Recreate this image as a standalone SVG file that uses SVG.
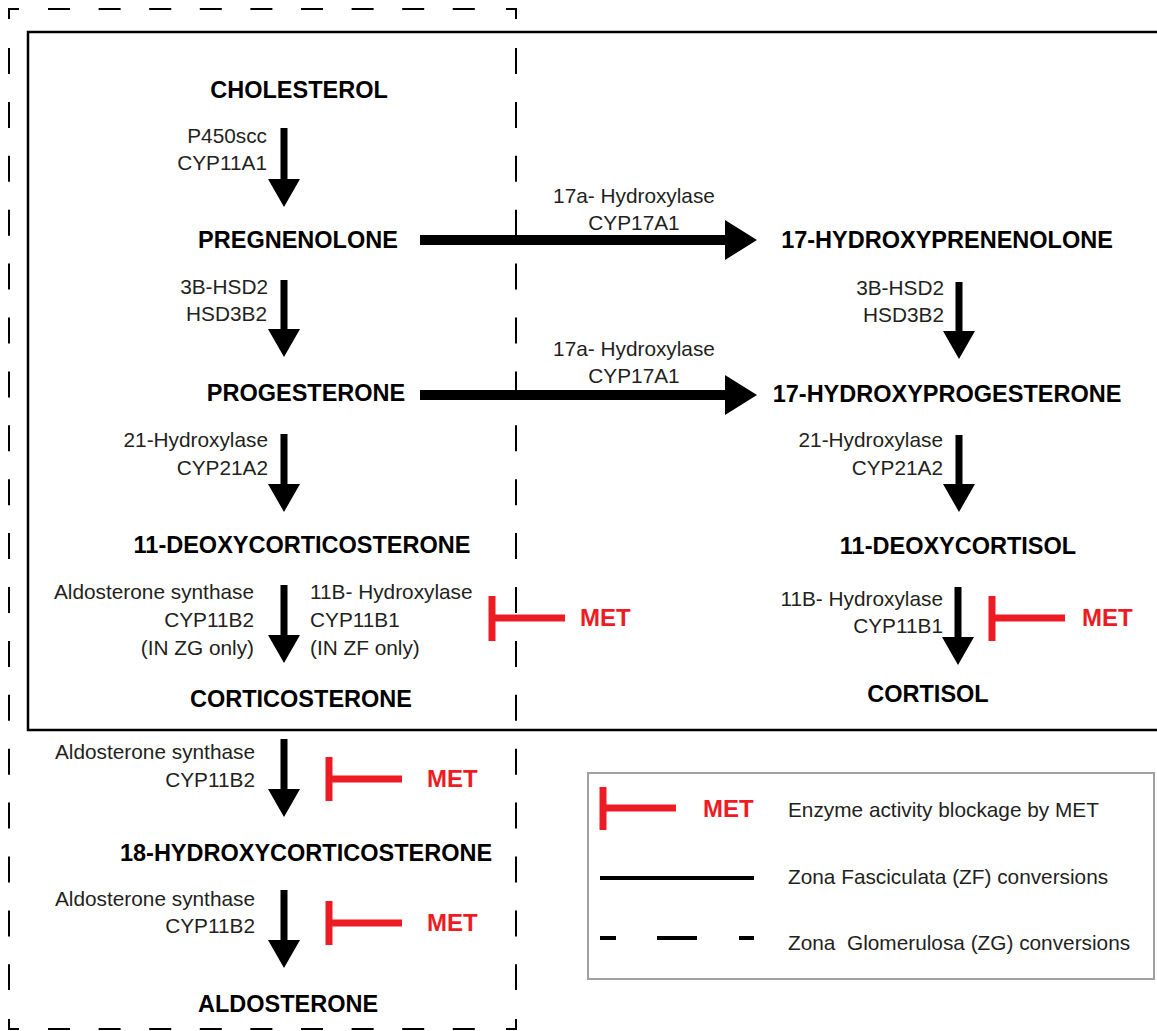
<svg xmlns="http://www.w3.org/2000/svg" width="1157" height="1031" viewBox="0 0 1157 1031">
<style>
.node{font-family:"Liberation Sans",Arial,sans-serif;font-weight:bold;font-size:23.5px;fill:#000;text-anchor:middle}
.lbl{font-family:"Liberation Sans",Arial,sans-serif;font-size:20.8px;fill:#231f20}
.end{text-anchor:end}
.mid{text-anchor:middle}
.met{font-family:"Liberation Sans",Arial,sans-serif;font-weight:bold;font-size:24px;fill:#ed1c24}
.arr{fill:#000}
.blk{stroke:#ed1c24;stroke-width:7;fill:none}
.dash{stroke:#000;stroke-width:2;fill:none}
</style>
<rect width="1157" height="1031" fill="#fff"/>
<g id="zones">
  <rect id="zf-zone" x="28" y="32" width="1140" height="698" fill="none" stroke="#000" stroke-width="2.5"/>
  <g id="zg-zone" class="dash">
    <path d="M9,19 V9 H19 M506,9 H516 V19 M9,1019 V1029 H19 M506,1029 H516 V1019"/>
    <line x1="48" y1="9" x2="475" y2="9" stroke-dasharray="22 28.6"/>
    <line x1="48" y1="1029" x2="475" y2="1029" stroke-dasharray="22 28.6"/>
    <line x1="9" y1="48" x2="9" y2="990" stroke-dasharray="26 27.9"/>
    <line x1="516" y1="48" x2="516" y2="990" stroke-dasharray="26 27.9"/>
  </g>
</g>
<g id="connectors">
  <path class="arr" d="M280.5,128 H287.5 V179 H300 L284,207 L268,179 H280.5 Z"/>
  <path class="arr" d="M280.5,280 H287.5 V329 H300 L284,357 L268,329 H280.5 Z"/>
  <path class="arr" d="M280.5,434 H287.5 V484 H300 L284,512 L268,484 H280.5 Z"/>
  <path class="arr" d="M280.5,585 H287.5 V635 H300 L284,663 L268,635 H280.5 Z"/>
  <path class="arr" d="M955.5,282 H962.5 V331 H975 L959,359 L943,331 H955.5 Z"/>
  <path class="arr" d="M955.5,435 H962.5 V484 H975 L959,512 L943,484 H955.5 Z"/>
  <path class="arr" d="M954.5,587 H961.5 V637 H974 L958,665 L942,637 H954.5 Z"/>
  <path class="arr" d="M280.5,739 H287.5 V789 H300 L284,817 L268,789 H280.5 Z"/>
  <path class="arr" d="M280.5,890 H287.5 V940 H300 L284,968 L268,940 H280.5 Z"/>
  <path class="arr" d="M420,235 H725 V220 L757,240 L725,260 V245 H420 Z"/>
  <path class="arr" d="M420,390 H725 V375 L757,395 L725,415 V400 H420 Z"/>
  <g id="blockers">
    <path class="blk" d="M492,596 V641 M492,618 H565"/>
    <path class="blk" d="M992,596 V641 M992,618 H1065"/>
    <path class="blk" d="M329,757 V801 M329,779 H402"/>
    <path class="blk" d="M329,901 V945 M329,923 H402"/>
    <text class="met" x="580" y="626">MET</text>
    <text class="met" x="1082" y="626">MET</text>
    <text class="met" x="427" y="787">MET</text>
    <text class="met" x="427" y="931">MET</text>
  </g>
  <g id="enzyme-labels" class="lbl">
    <text class="end" x="267" y="143">P450scc</text>
    <text class="end" x="267" y="170">CYP11A1</text>
    <text class="end" x="268" y="294">3B-HSD2</text>
    <text class="end" x="267" y="321">HSD3B2</text>
    <text class="end" x="268" y="447">21-Hydroxylase</text>
    <text class="end" x="268" y="475">CYP21A2</text>
    <text class="end" x="254" y="599">Aldosterone synthase</text>
    <text class="end" x="254" y="627">CYP11B2</text>
    <text class="end" x="254" y="655">(IN ZG only)</text>
    <text x="310" y="599">11B- Hydroxylase</text>
    <text x="310" y="627">CYP11B1</text>
    <text x="310" y="655">(IN ZF only)</text>
    <text class="mid" x="634" y="203">17a- Hydroxylase</text>
    <text class="mid" x="634" y="230">CYP17A1</text>
    <text class="mid" x="634" y="356">17a- Hydroxylase</text>
    <text class="mid" x="634" y="383">CYP17A1</text>
    <text class="end" x="944" y="295">3B-HSD2</text>
    <text class="end" x="944" y="322">HSD3B2</text>
    <text class="end" x="943" y="447">21-Hydroxylase</text>
    <text class="end" x="943" y="475">CYP21A2</text>
    <text class="end" x="943" y="606">11B- Hydroxylase</text>
    <text class="end" x="943" y="633">CYP11B1</text>
    <text class="end" x="255" y="759">Aldosterone synthase</text>
    <text class="end" x="255" y="787">CYP11B2</text>
    <text class="end" x="255" y="906">Aldosterone synthase</text>
    <text class="end" x="255" y="933">CYP11B2</text>
  </g>
</g>
<g id="cholesterol"><text class="node" x="299" y="98">CHOLESTEROL</text></g>
<g id="pregnenolone"><text class="node" x="298" y="248">PREGNENOLONE</text></g>
<g id="progesterone"><text class="node" x="306" y="401">PROGESTERONE</text></g>
<g id="deoxycorticosterone"><text class="node" x="302" y="553">11-DEOXYCORTICOSTERONE</text></g>
<g id="corticosterone"><text class="node" x="301" y="707">CORTICOSTERONE</text></g>
<g id="hydroxyprenenolone"><text class="node" x="947" y="248">17-HYDROXYPRENENOLONE</text></g>
<g id="hydroxyprogesterone"><text class="node" x="947" y="402">17-HYDROXYPROGESTERONE</text></g>
<g id="deoxycortisol"><text class="node" x="958" y="554">11-DEOXYCORTISOL</text></g>
<g id="cortisol"><text class="node" x="928" y="702">CORTISOL</text></g>
<g id="hydroxycorticosterone"><text class="node" x="306" y="861">18-HYDROXYCORTICOSTERONE</text></g>
<g id="aldosterone"><text class="node" x="288" y="1012">ALDOSTERONE</text></g>
<g id="legend">
  <rect x="588" y="773" width="566" height="206" fill="none" stroke="#a0a0a0" stroke-width="2"/>
  <path class="blk" d="M603,787 V830 M603,808 H676"/>
  <text class="met" x="703" y="817">MET</text>
  <line x1="600" y1="878" x2="754" y2="878" stroke="#000" stroke-width="4"/>
  <path d="M600,938 H616 M657,938 H697 M739,938 H754" stroke="#000" stroke-width="4"/>
  <text class="lbl" x="788" y="817">Enzyme activity blockage by MET</text>
  <text class="lbl" x="788" y="884">Zona Fasciculata (ZF) conversions</text>
  <text class="lbl" x="788" y="950" xml:space="preserve">Zona  Glomerulosa (ZG) conversions</text>
</g>
</svg>
